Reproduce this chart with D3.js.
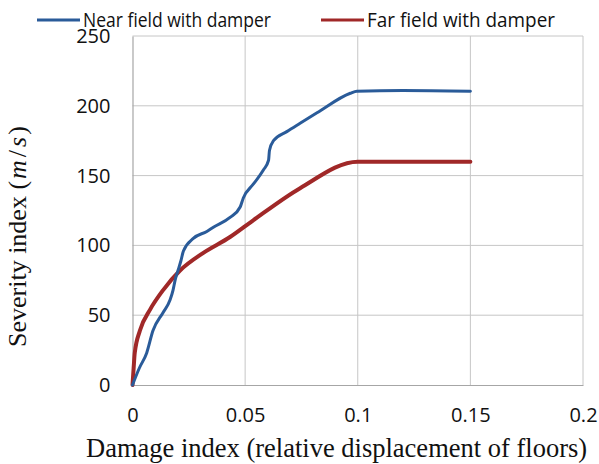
<!DOCTYPE html>
<html>
<head>
<meta charset="utf-8">
<script src="https://cdn.jsdelivr.net/npm/d3@7"></script>
<style>
  body { margin: 0; background: #fff; }
  svg { display: block; }
</style>
</head>
<body>
<svg width="599" height="464"></svg>
<script>
// values
const nearX = [0, 0.003, 0.0063, 0.0091, 0.0136, 0.0167, 0.018, 0.0189, 0.0202, 0.0215,
  0.0226, 0.027, 0.033, 0.0359, 0.0433, 0.0478, 0.0492, 0.0537, 0.0581, 0.0604,
  0.0608, 0.0626, 0.0685, 0.0744, 0.0819, 0.0967, 0.0996, 0.12, 0.15];
const nearY = [0, 12, 23, 39, 52, 61, 68, 75, 82, 89,
  96, 105, 110, 113, 120, 127.5, 134, 144, 154, 161,
  168, 175, 181.5, 187.5, 195, 209, 210.5, 211, 210.5];
const farX = [0, 0.0005, 0.001, 0.0033, 0.0078, 0.0136, 0.0211, 0.0313, 0.0433, 0.0536, 0.0744, 0.1, 0.15];
const farY = [0, 12, 23, 39, 54, 68, 82, 94.5, 106, 118, 141, 160, 160];
const xTicks = [0, 0.05, 0.1, 0.15, 0.2];
const yTicks = [0, 50, 100, 150, 200, 250];
const seriesNames = ['Near field with damper', 'Far field with damper'];
const seriesColors = ['#2a5b99', '#a02828'];

const svg = d3.select('svg');
const margin = {top: 36, right: 16, bottom: 79, left: 132.5};
const width = 599, height = 464;

const x = d3.scaleLinear().domain([0, 0.2]).range([margin.left, width - margin.right]);
const y = d3.scaleLinear().domain([0, 250]).range([height - margin.bottom, margin.top]);

// grid lines
const grid = svg.append('g').attr('stroke', '#c6c6c6').attr('stroke-width', 1);
grid.selectAll('.gx').data(xTicks.slice(1)).enter().append('line')
    .attr('x1', (d) => x(d)).attr('x2', (d) => x(d))
    .attr('y1', y(0)).attr('y2', y(250));
grid.selectAll('.gy').data(yTicks.slice(1)).enter().append('line')
    .attr('x1', x(0)).attr('x2', x(0.2))
    .attr('y1', (d) => y(d)).attr('y2', (d) => y(d));

// axes
const yAxis = svg.append('g')
    .attr('transform', `translate(${x(0)},0)`)
    .call(d3.axisLeft(y).tickValues(yTicks).tickSize(0).tickPadding(22));
const xAxis = svg.append('g')
    .attr('transform', `translate(0,${y(0)})`)
    .call(d3.axisBottom(x).tickValues(xTicks).tickFormat(d3.format('')).tickSize(0).tickPadding(23));
[xAxis, yAxis].forEach((g) => {
  g.select('.domain').attr('stroke', '#a6a6a6').attr('stroke-width', 1.2);
  g.selectAll('text').attr('font-family', '"Open Sans", sans-serif')
      .attr('font-size', 20).attr('fill', '#111');
});

// lines
const line = d3.line().x((d) => x(d[0])).y((d) => y(d[1])).curve(d3.curveMonotoneX);
const nearData = nearX.map((v, i) => [v, nearY[i]]);
const farData = farX.map((v, i) => [v, farY[i]]);
svg.append('path').datum(farData)
    .attr('fill', 'none').attr('stroke', seriesColors[1]).attr('stroke-width', 4)
    .attr('stroke-linecap', 'round').attr('d', line);
svg.append('path').datum(nearData)
    .attr('fill', 'none').attr('stroke', seriesColors[0]).attr('stroke-width', 3)
    .attr('stroke-linecap', 'round').attr('d', line);

// legend
const legendX = [37, 321];
seriesNames.forEach((name, i) => {
  const g = svg.append('g').attr('transform', `translate(${legendX[i]},20)`);
  g.append('line').attr('x1', 0).attr('x2', 43).attr('y1', 0).attr('y2', 0)
      .attr('stroke', seriesColors[i]).attr('stroke-width', 3);
  g.append('text').attr('x', 46).attr('y', 7)
      .attr('font-family', '"Open Sans", sans-serif').attr('font-size', 20)
      .attr('textLength', i === 0 ? 188 : 188).attr('lengthAdjust', 'spacingAndGlyphs')
      .attr('fill', '#111').text(name);
});

// axis titles
svg.append('text')
    .attr('x', 86).attr('y', 457)
    .attr('font-family', '"Liberation Serif", serif').attr('font-size', 26.5)
    .attr('fill', '#111')
    .text('Damage index (relative displacement of floors)');

const yt = svg.append('text')
    .attr('transform', 'translate(26,347) rotate(-90)')
    .attr('font-family', '"Liberation Serif", serif').attr('font-size', 26)
    .attr('fill', '#111');
yt.append('tspan').text('Severity index (');
yt.append('tspan').attr('font-style', 'italic').attr('dx', 2).text('m');
yt.append('tspan').attr('dx', 3).text('/');
yt.append('tspan').attr('font-style', 'italic').attr('dx', 3).text('s');
yt.append('tspan').attr('dx', 2).text(')');
</script>
</body>
</html>
